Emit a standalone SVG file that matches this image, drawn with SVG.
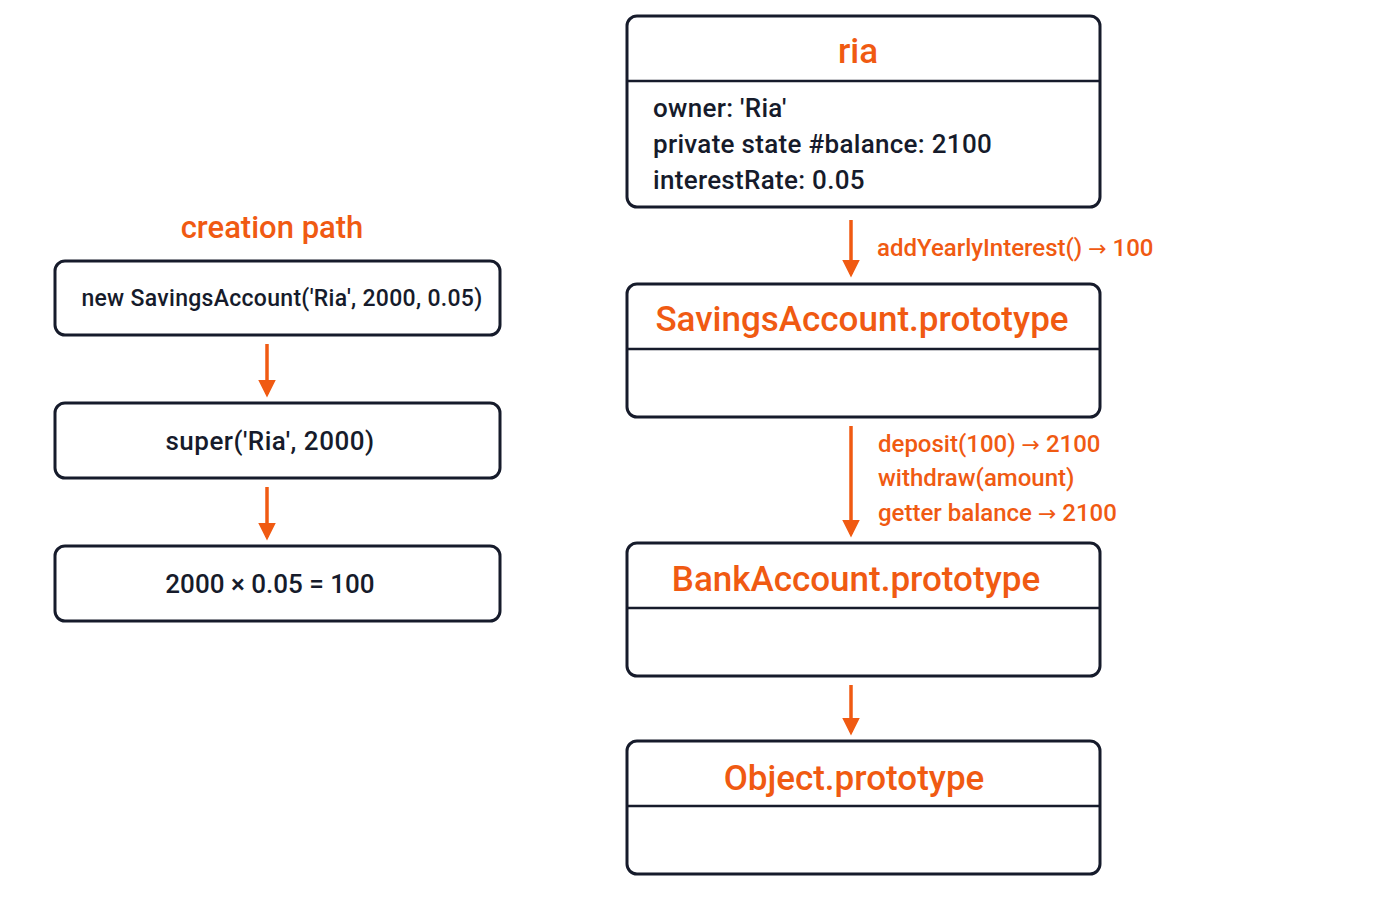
<svg xmlns="http://www.w3.org/2000/svg" width="1400" height="900" viewBox="0 0 1400 900">
<style>
.box{fill:#fff;stroke:#161b2b;stroke-width:3}
.div{stroke:#161b2b;stroke-width:2.5}
.t{font-family:Roboto,"Liberation Sans",sans-serif;fill:#161b2b}
.o{font-family:Roboto,"Liberation Sans",sans-serif;fill:#f05a12}
.ttl{font-size:35px;text-anchor:middle;font-weight:500}
.lbl{font-size:24px;font-weight:500}
.body{font-size:26px;font-weight:500;letter-spacing:0.3px}
.ar{font-family:"DejaVu Sans",sans-serif;font-size:22px}
.arr{stroke:#f05a12;stroke-width:3.5;fill:none;marker-end:url(#ah)}
</style>
<defs><marker id="ah" viewBox="0 0 10 10" refX="8" refY="5" markerWidth="5" markerHeight="5" orient="auto"><path d="M0,0 L10,5 L0,10 z" fill="#f05a12"/></marker></defs>
<rect width="1400" height="900" fill="#fff"/>
<g id="ria"><rect class="box" x="627" y="16" width="473" height="191" rx="10"/><line class="div" x1="627" y1="81" x2="1100" y2="81"/>
<text class="o ttl" x="858" y="63">ria</text>
<text class="t body" x="653" y="117">owner: 'Ria'</text>
<text class="t body" x="653" y="153">private state #balance: 2100</text>
<text class="t body" x="653" y="189">interestRate: 0.05</text></g>
<g id="savings"><rect class="box" x="627" y="284" width="473" height="133" rx="10"/><line class="div" x1="627" y1="349" x2="1100" y2="349"/>
<text class="o ttl" x="862" y="331">SavingsAccount.prototype</text></g>
<g id="bank"><rect class="box" x="627" y="543" width="473" height="133" rx="10"/><line class="div" x1="627" y1="608" x2="1100" y2="608"/>
<text class="o ttl" x="856" y="591">BankAccount.prototype</text></g>
<g id="object"><rect class="box" x="627" y="741" width="473" height="133" rx="10"/><line class="div" x1="627" y1="806" x2="1100" y2="806"/>
<text class="o ttl" x="854" y="790">Object.prototype</text></g>
<text class="o" x="272" y="238" font-size="31" font-weight="500" text-anchor="middle">creation path</text>
<g id="n1"><rect class="box" x="55" y="261" width="445" height="74" rx="10"/><text class="t" x="282" y="306" font-size="23" font-weight="500" text-anchor="middle" letter-spacing="0.3">new SavingsAccount('Ria', 2000, 0.05)</text></g>
<g id="n2"><rect class="box" x="55" y="403" width="445" height="75" rx="10"/><text class="t" x="270" y="450" font-size="26" font-weight="500" text-anchor="middle" letter-spacing="0.5">super('Ria', 2000)</text></g>
<g id="n3"><rect class="box" x="55" y="546" width="445" height="75" rx="10"/><text class="t" x="270" y="593" font-size="26" font-weight="500" text-anchor="middle">2000 × 0.05 = 100</text></g>
<g id="connectors">
<line class="arr" x1="851" y1="220" x2="851" y2="274"/>
<line class="arr" x1="851" y1="426" x2="851" y2="534"/>
<line class="arr" x1="851" y1="685" x2="851" y2="732"/>
<line class="arr" x1="267" y1="344" x2="267" y2="394"/>
<line class="arr" x1="267" y1="487" x2="267" y2="537"/>
<text class="o lbl" x="877" y="256">addYearlyInterest() <tspan class="ar">→</tspan> 100</text>
<text class="o lbl" x="878" y="452">deposit(100) <tspan class="ar">→</tspan> 2100</text>
<text class="o lbl" x="878" y="486">withdraw(amount)</text>
<text class="o lbl" x="878" y="521">getter balance <tspan class="ar">→</tspan> 2100</text>
</g>
</svg>
